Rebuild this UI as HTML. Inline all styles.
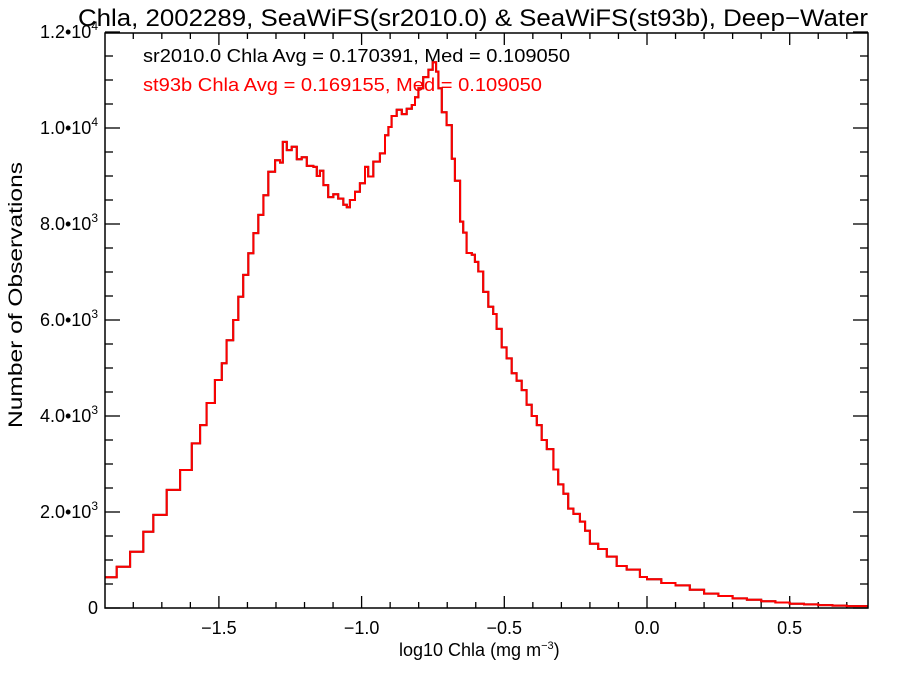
<!DOCTYPE html>
<html><head><meta charset="utf-8"><style>
body{margin:0;background:#fff}
svg text{font-family:"Liberation Sans",sans-serif}
</style></head><body>
<svg id="chart" width="900" height="675" xmlns="http://www.w3.org/2000/svg">
<text x="78" y="26" font-size="24" textLength="790" lengthAdjust="spacingAndGlyphs">Chla, 2002289, SeaWiFS(sr2010.0) &amp; SeaWiFS(st93b), Deep−Water</text>
<text x="143" y="62" font-size="18" textLength="427" lengthAdjust="spacingAndGlyphs">sr2010.0 Chla Avg = 0.170391, Med = 0.109050</text>
<text x="143" y="91" font-size="18" fill="#ff0000" textLength="399" lengthAdjust="spacingAndGlyphs">st93b Chla Avg = 0.169155, Med = 0.109050</text>
<text transform="translate(22,295) rotate(-90)" font-size="19" text-anchor="middle" textLength="266" lengthAdjust="spacingAndGlyphs">Number of Observations</text>
<text x="399" y="656" font-size="18">log10 Chla (mg m<tspan font-size="11" dy="-7">−3</tspan><tspan dy="7">)</tspan></text>
<g id="ticks"></g>
<g id="series"></g>
<rect x="105" y="33" width="763" height="575" fill="none" stroke="#000" stroke-width="1.5"/>
</svg>
<script>
const binStarts=[-1.899,-1.858,-1.811,-1.765,-1.730,-1.683,-1.636,-1.595,-1.566,-1.543,-1.514,-1.490,-1.473,-1.450,-1.432,-1.415,-1.397,-1.379,-1.362,-1.344,-1.327,-1.303,-1.286,-1.276,-1.262,-1.245,-1.227,-1.210,-1.192,-1.169,-1.157,-1.146,-1.134,-1.117,-1.099,-1.082,-1.064,-1.052,-1.041,-1.023,-1.006,-0.988,-0.977,-0.959,-0.936,-0.918,-0.906,-0.895,-0.877,-0.859,-0.842,-0.824,-0.813,-0.801,-0.784,-0.766,-0.751,-0.739,-0.731,-0.719,-0.702,-0.684,-0.673,-0.655,-0.644,-0.632,-0.614,-0.603,-0.591,-0.574,-0.556,-0.539,-0.527,-0.509,-0.492,-0.474,-0.457,-0.439,-0.422,-0.404,-0.386,-0.369,-0.351,-0.328,-0.311,-0.293,-0.276,-0.258,-0.235,-0.217,-0.200,-0.171,-0.141,-0.106,-0.071,-0.025,0.0,0.05,0.1,0.15,0.2,0.25,0.3,0.35,0.4,0.45,0.5,0.55,0.6,0.65,0.7];
const counts=[640,860,1170,1590,1940,2460,2875,3430,3810,4270,4750,5100,5580,6000,6485,6940,7390,7810,8190,8600,9090,9330,9280,9710,9540,9610,9350,9390,9210,9190,9000,9110,8810,8560,8620,8530,8400,8350,8500,8670,8850,9190,8990,9300,9470,9850,10020,10250,10380,10290,10400,10480,10640,10830,11060,11215,11370,11175,10830,10330,10060,9360,8900,8050,7820,7395,7360,7210,7010,6585,6275,6125,5815,5430,5200,4890,4735,4540,4235,4000,3810,3500,3310,2885,2575,2380,2070,1960,1800,1610,1340,1230,1070,875,800,645,600,520,470,380,300,250,200,170,140,115,90,75,60,50,40];
const xMax=0.775;
const xTickVals=[-1.5,-1.0,-0.5,0.0,0.5];
const xTickLabels=["−1.5","−1.0","−0.5","0.0","0.5"];
const yTickVals=[0,2000,4000,6000,8000,10000,12000];
const yTickMant=["0","2.0","4.0","6.0","8.0","1.0","1.2"];
const yTickExp=["","3","3","3","3","4","4"];
const NS="http://www.w3.org/2000/svg";
const X0=105,X1=868,Y0=608,Y1=33;
const xs=v=>647+v*285.4;
const ys=v=>Y0-v*(96/2000);
const tg=document.getElementById('ticks');
function ln(x1,y1,x2,y2,name){const l=document.createElementNS(NS,'line');l.setAttribute('x1',x1);l.setAttribute('y1',y1);l.setAttribute('x2',x2);l.setAttribute('y2',y2);l.setAttribute('stroke','#000');l.setAttribute('stroke-width','1.3');


tg.appendChild(l);}
for(let k=-19;k<=7;k++){const v=k/10;const x=xs(v);if(x<X0||x>X1)continue;const major=(k%5===0);const L=major?12:6;ln(x,Y0,x,Y0-L,'x-tick');ln(x,Y1,x,Y1+L,'x-tick-top');}
for(let v=0;v<=12000;v+=500){const y=ys(v);const major=(v%2000===0);const L=major?15:8;ln(X0,y,X0+L,y,'y-tick');ln(X1,y,X1-L,y,'y-tick-right');}
xTickVals.forEach((v,i)=>{const t=document.createElementNS(NS,'text');t.setAttribute('x',xs(v));t.setAttribute('y',Y0+26);t.setAttribute('font-size','18');t.setAttribute('text-anchor','middle');t.textContent=xTickLabels[i];


tg.appendChild(t);});
yTickVals.forEach((v,i)=>{const t=document.createElementNS(NS,'text');t.setAttribute('x',98);t.setAttribute('y',ys(v)+6);t.setAttribute('font-size','18');t.setAttribute('text-anchor','end');
if(yTickExp[i]){t.textContent=yTickMant[i]+'•10';const s=document.createElementNS(NS,'tspan');s.setAttribute('font-size','12');s.setAttribute('dy','-8');s.textContent=yTickExp[i];t.appendChild(s);}else{t.textContent=yTickMant[i];}


tg.appendChild(t);});
function stepPath(){let d='';for(let i=0;i<binStarts.length;i++){const xa=Math.max(X0,xs(binStarts[i]));const xb=Math.min(X1,xs(i+1<binStarts.length?binStarts[i+1]:xMax));const y=ys(counts[i]);d+=(i===0?'M':'L')+xa.toFixed(1)+','+y.toFixed(1)+'L'+xb.toFixed(1)+','+y.toFixed(1);}return d;}
const sg=document.getElementById('series');
const p1=document.createElementNS(NS,'path');p1.setAttribute('d',stepPath());p1.setAttribute('fill','none');p1.setAttribute('stroke','#000');p1.setAttribute('stroke-width','2');


sg.appendChild(p1);
const p2=document.createElementNS(NS,'path');p2.setAttribute('d',stepPath());p2.setAttribute('fill','none');p2.setAttribute('stroke','#ff0000');p2.setAttribute('stroke-width','2');


sg.appendChild(p2);
</script>
</body></html>
